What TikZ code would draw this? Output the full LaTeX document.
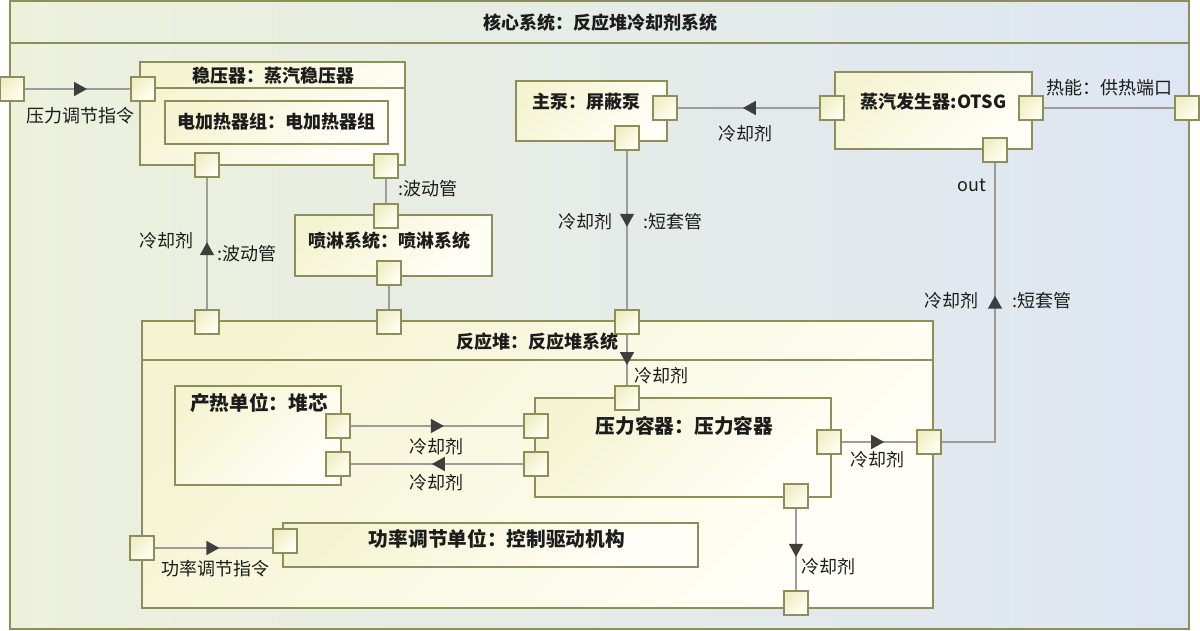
\documentclass[tikz,border=0pt]{standalone}
\usepackage{fontspec}
\setmainfont{Noto Sans CJK SC}
\usetikzlibrary{arrows.meta,decorations.markings}
\definecolor{rimolive}{HTML}{8E8E5A}
\definecolor{boxtop}{HTML}{F5F4D2}
\definecolor{boxbot}{HTML}{FFFFF8}
\definecolor{porttop}{HTML}{EFEEC4}
\definecolor{portbot}{HTML}{FFFFF4}
\definecolor{bgleft}{HTML}{EDF1DC}
\definecolor{bgright}{HTML}{DEE6F3}
\definecolor{wiregray}{HTML}{9C9C9C}
\definecolor{arrowdark}{HTML}{3E3E3E}
\definecolor{inkgray}{HTML}{1C1C1C}
\tikzset{
  frame/.style={draw=rimolive, line width=2pt, left color=bgleft, right color=bgright, inner sep=0pt},
  box/.style={draw=rimolive, line width=1.6pt, top color=boxtop, bottom color=boxbot, shading angle=45, inner sep=0pt},
  rim/.style={draw=rimolive, line width=1.6pt},
  port/.style={draw=rimolive, line width=1.4pt, top color=porttop, bottom color=portbot, shading angle=45, minimum size=24pt, inner sep=0pt},
  wire/.style={draw=wiregray, line width=1.5pt},
  flow/.style={postaction={decorate}, decoration={markings, mark=at position #1 with {\arrow[color=arrowdark]{Triangle[length=13pt,width=14pt]}}}},
  btitle/.style={font=\bfseries\fontsize{18}{21}\selectfont, text=inkgray, inner sep=0pt},
  bigtitle/.style={btitle, font=\bfseries\fontsize{19.7}{23}\selectfont},
  lbl/.style={font=\fontsize{18}{21}\selectfont, text=inkgray, inner sep=0pt}
}
\begin{document}
\begin{tikzpicture}[x=1pt,y=-1pt]
  \useasboundingbox (0,0) rectangle (1200,631);
  \node[frame, minimum width=1179, minimum height=628] (sys) at (599.5,315) {};
  \draw[rim] (10,43) -- (1189,43);
  \node[box, minimum width=265, minimum height=103] (pz) at (272.5,113.5) {};
  \draw[rim] (140,88) -- (405,88);
  \node[box, minimum width=223, minimum height=43] (heater) at (276.5,122.5) {};
  \node[box, minimum width=197, minimum height=61] (spray) at (393.5,245.5) {};
  \node[box, minimum width=151, minimum height=60] (pump) at (591.5,111) {};
  \node[box, minimum width=197, minimum height=77] (sg) at (933.5,110.5) {};
  \node[box, minimum width=791, minimum height=287] (rx) at (537.5,464.5) {};
  \draw[rim] (142,360) -- (933,360);
  \node[box, minimum width=166, minimum height=99] (core) at (258,435.5) {};
  \node[box, minimum width=296, minimum height=99] (pv) at (683,447.5) {};
  \node[box, minimum width=415, minimum height=44] (power) at (490.5,545) {};

  \node[port] (sigIn) at (12,89) {};
  \node[port] (pzIn) at (143,89) {};
  \node[port] (pzA) at (207,165) {};
  \node[port] (pzB) at (386,166) {};
  \node[port] (spIn) at (386,216) {};
  \node[port] (spOut) at (389,273) {};
  \node[port] (pmR) at (665,108) {};
  \node[port] (pmB) at (627,138) {};
  \node[port] (sgL) at (832,108) {};
  \node[port] (sgR) at (1031,108) {};
  \node[port] (sgB) at (995,150) {};
  \node[port] (heatOut) at (1187,108) {};
  \node[port] (rx1) at (207,322) {};
  \node[port] (rx2) at (389,322) {};
  \node[port] (rx3) at (627,322) {};
  \node[port] (rxR) at (929,442) {};
  \node[port] (rxBot) at (796,603) {};
  \node[port] (rxL) at (142,548) {};
  \node[port] (cr1) at (338,426) {};
  \node[port] (cr2) at (338,464) {};
  \node[port] (pvT) at (627,398) {};
  \node[port] (pv1) at (536,426) {};
  \node[port] (pv2) at (536,464) {};
  \node[port] (pvR) at (829,442) {};
  \node[port] (pvB) at (796,496) {};
  \node[port] (pwL) at (285,541) {};

  \node[btitle] (sysName) at (600,23) {核心系统：反应堆冷却剂系统};
  \node[btitle] (pzName) at (273,76) {稳压器：蒸汽稳压器};
  \node[btitle] (heaterName) at (276.5,122) {电加热器组：电加热器组};
  \node[btitle] (sprayName) at (389.5,241) {喷淋系统：喷淋系统};
  \node[btitle] (pumpName) at (586,102) {主泵：屏蔽泵};
  \node[btitle] (sgName) at (933.5,102) {蒸汽发生器:OTSG};
  \node[btitle] (rxName) at (537.5,342) {反应堆：反应堆系统};
  \node[bigtitle] (coreName) at (259,403) {产热单位：堆芯};
  \node[bigtitle] (pvName) at (684.5,426) {压力容器：压力容器};
  \node[bigtitle] (powerName) at (497,539) {功率调节单位：控制驱动机构};

  \node[lbl] (cmdP) at (81,116) {压力调节指令};
  \node[lbl] (surgeB) at (428,189) {:波动管};
  \node[lbl] (coolA) at (166,241) {冷却剂};
  \node[lbl] (surgeA) at (247,254) {:波动管};
  \node[lbl] (coolSg) at (745,134) {冷却剂};
  \node[lbl] (coolPm) at (585,222) {冷却剂};
  \node[lbl] (pipePm) at (673,222) {:短套管};
  \node[lbl] (heatName) at (1109,88) {热能：供热端口};
  \node[lbl] (outName) at (972,185) {out};
  \node[lbl] (coolUp) at (951,301) {冷却剂};
  \node[lbl] (pipeUp) at (1042,301) {:短套管};
  \node[lbl] (coolIn) at (661,376) {冷却剂};
  \node[lbl] (coolHot) at (436,447) {冷却剂};
  \node[lbl] (coolCold) at (436,483) {冷却剂};
  \node[lbl] (coolOut) at (877,460) {冷却剂};
  \node[lbl] (coolDown) at (828,567) {冷却剂};
  \node[lbl] (cmdW) at (215,569) {功率调节指令};

  \begin{scope}[wire]
    \draw[flow=0.59] (sigIn) -- (pzIn);
    \draw[flow=0.51] (rx1) -- (pzA);
    \draw (pzB) -- (spIn);
    \draw (spOut) -- (rx2);
    \draw[flow=0.54] (sgL) -- (pmR);
    \draw[flow=0.48] (pmB) -- (rx3);
    \draw[flow=0.6] (rx3) -- (pvT);
    \draw (sgR) -- (heatOut);
    \draw[flow=0.6] (rxR) -| (sgB);
    \draw[flow=0.54] (cr1) -- (pv1);
    \draw[flow=0.53] (pv2) -- (cr2);
    \draw[flow=0.57] (pvR) -- (rxR);
    \draw[flow=0.59] (pvB) -- (rxBot);
    \draw[flow=0.55] (rxL) -- (rxL -| pwL.west);
  \end{scope}
\end{tikzpicture}
\end{document}
